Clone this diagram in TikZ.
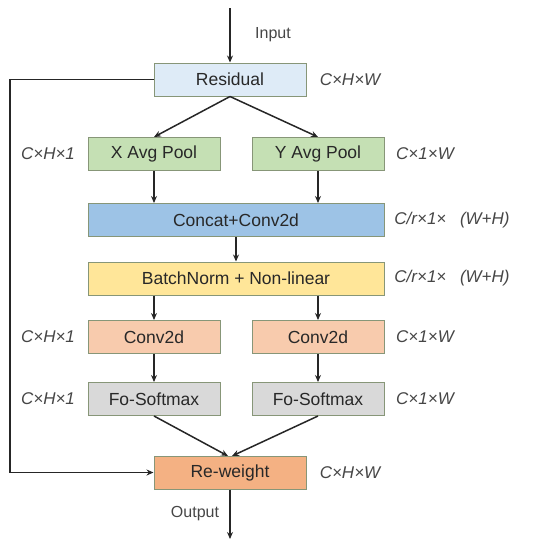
\documentclass[tikz,border=0pt]{standalone}
\usepackage{fontspec}
\setmainfont{Liberation Sans}
\usetikzlibrary{arrows.meta}
\definecolor{edgec}{RGB}{135,150,120}
\definecolor{txtc}{RGB}{40,40,40}
\definecolor{dimc}{RGB}{70,70,70}
\begin{document}
\begin{tikzpicture}
                \tikzset{x=1pt, y=-1pt}
                \tikzstyle{blk}=[rectangle, draw=edgec, line width=1pt, text=txtc, minimum width=132pt, minimum height=33pt, inner sep=0pt, font=\fontsize{17.5}{20}\selectfont]
                \tikzstyle{mid}=[blk, minimum width=152pt]
                \tikzstyle{wide}=[blk, minimum width=296pt]
                \tikzstyle{dim}=[text=dimc, font=\fontsize{17}{20}\selectfont\itshape]
                \tikzstyle{flow}=[-{Stealth[length=7pt,width=6pt]}, line width=1.5pt, black!85]
                \useasboundingbox (0,0) rectangle (551,539);

                % blocks
                \draw (230.0, 79.5)  node[mid, fill={rgb,255:red,222;green,235;blue,247}] (res)  {Residual};
                \draw (154.0, 154.0) node[blk, fill={rgb,255:red,197;green,224;blue,180}] (xp)   {X Avg Pool};
                \draw (318.0, 154.0) node[blk, fill={rgb,255:red,197;green,224;blue,180}] (yp)   {Y Avg Pool};
                \draw (236.0, 220.0) node[wide, fill={rgb,255:red,157;green,195;blue,230}] (cat) {Concat+Conv2d};
                \draw (236.0, 278.5) node[wide, fill={rgb,255:red,255;green,230;blue,153}] (bn)  {BatchNorm + Non-linear};
                \draw (154.0, 337.0) node[blk, fill={rgb,255:red,248;green,203;blue,173}] (cx)   {Conv2d};
                \draw (318.0, 337.0) node[blk, fill={rgb,255:red,248;green,203;blue,173}] (cy)   {Conv2d};
                \draw (154.0, 399.0) node[blk, fill={rgb,255:red,217;green,217;blue,217}] (sx)   {Fo-Softmax};
                \draw (318.0, 399.0) node[blk, fill={rgb,255:red,217;green,217;blue,217}] (sy)   {Fo-Softmax};
                \draw (230.0, 472.5) node[mid, fill={rgb,255:red,244;green,177;blue,131}] (rw)   {Re-weight};

                % shape annotations
                \draw (350.0, 80.0)  node[dim] (dres) {C×H×W};
                \draw (48.0, 154.0)  node[dim] (dxp)  {C×H×1};
                \draw (425.0, 154.0) node[dim] (dyp)  {C×1×W};
                \draw (452.0, 220.0) node[dim] (dcat) {C/r×1×\hspace{0.8em}(W+H)};
                \draw (452.0, 278.5) node[dim] (dbn)  {C/r×1×\hspace{0.8em}(W+H)};
                \draw (48.0, 337.0)  node[dim] (dcx)  {C×H×1};
                \draw (425.0, 337.0) node[dim] (dcy)  {C×1×W};
                \draw (48.0, 399.0)  node[dim] (dsx)  {C×H×1};
                \draw (425.0, 399.0) node[dim] (dsy)  {C×1×W};
                \draw (350.0, 473.0) node[dim] (drw)  {C×H×W};

                % in / out
                \coordinate (in)   at (230.0, 8.0);
                \coordinate (out)  at (230.0, 539.0);
                \coordinate (lt)   at (10.0, 79.5);
                \coordinate (rwl)  at (228.0, 456.0);
                \coordinate (rwr)  at (232.0, 456.0);
                \draw (273.0, 35.0)  node[text=dimc, font=\fontsize{16}{19}\selectfont] (inlab)  {Input};
                \draw (195.0, 514.0) node[text=dimc, font=\fontsize{16}{19}\selectfont] (outlab) {Output};

                % flow arrows
                \draw [flow]        (in) -- (res.north);
                \draw [flow]        (res.south) -- (xp.north);
                \draw [flow]        (res.south) -- (yp.north);
                \draw [flow]        (xp.south) -- (xp.south |- cat.north);
                \draw [flow]        (yp.south) -- (yp.south |- cat.north);
                \draw [flow]        (cat.south) -- (bn.north);
                \draw [flow]        (cx.north |- bn.south) -- (cx.north);
                \draw [flow]        (cy.north |- bn.south) -- (cy.north);
                \draw [flow]        (cx.south) -- (sx.north);
                \draw [flow]        (cy.south) -- (sy.north);
                \draw [flow]        (sx.south) -- (rwl);
                \draw [flow]        (sy.south) -- (rwr);
                \draw [flow]        (rw.south) -- (out);

                % residual skip
                \draw [flow]        (res.west) -- (lt) |- (rw.west);
            \end{tikzpicture}
\end{document}
